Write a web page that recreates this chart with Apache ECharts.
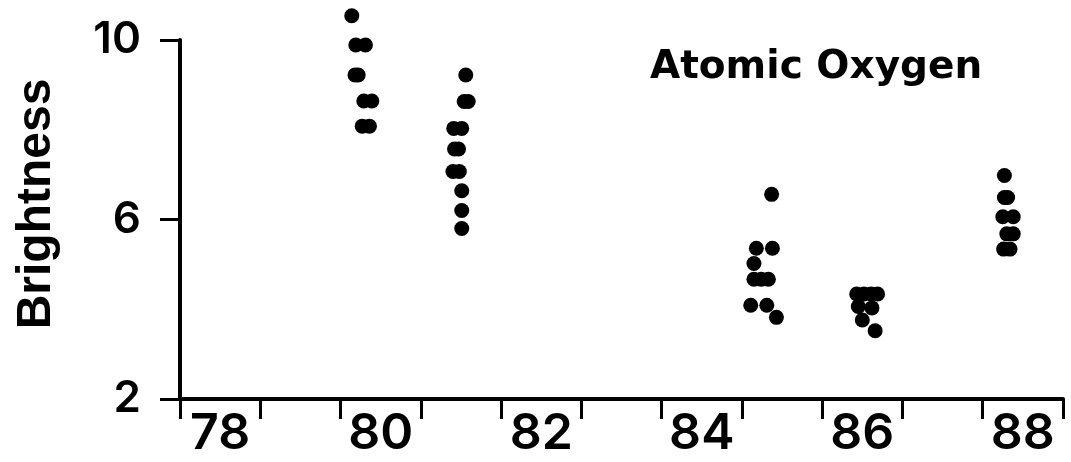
<!DOCTYPE html>
<html>
<head>
<meta charset="utf-8">
<title>Atomic Oxygen</title>
<script src="https://cdn.jsdelivr.net/npm/echarts@6/dist/echarts.min.js"></script>
<style>
    html, body { margin: 0; padding: 0; background: #fff; }
    #chart { width: 1071px; height: 462px; }
</style>
</head>
<body>
<div id="chart"></div>
<script>
// ======================================数据======================================
// [year, brightness] for each observing season
var season80 = [
    [80.14, 10.54],
    [80.19, 9.89], [80.31, 9.89],
    [80.18, 9.22], [80.22, 9.22],
    [80.29, 8.64], [80.39, 8.64],
    [80.27, 8.08], [80.36, 8.08]
];
var season81 = [
    [81.56, 9.22],
    [81.54, 8.63], [81.59, 8.63],
    [81.41, 8.03], [81.51, 8.03],
    [81.42, 7.57], [81.47, 7.57],
    [81.40, 7.07], [81.48, 7.07],
    [81.51, 6.64],
    [81.51, 6.20],
    [81.51, 5.80]
];
var season85 = [
    [85.37, 6.56],
    [85.18, 5.36], [85.38, 5.36],
    [85.15, 5.02],
    [85.15, 4.67], [85.24, 4.67], [85.33, 4.67],
    [85.11, 4.09], [85.31, 4.09],
    [85.43, 3.82]
];
var season86 = [
    [86.43, 4.34], [86.52, 4.34], [86.61, 4.34], [86.69, 4.34],
    [86.45, 4.06], [86.62, 4.03],
    [86.50, 3.76],
    [86.66, 3.52]
];
var season88 = [
    [88.27, 6.98],
    [88.27, 6.49], [88.31, 6.49],
    [88.25, 6.06], [88.38, 6.06],
    [88.30, 5.68], [88.38, 5.68],
    [88.26, 5.34], [88.34, 5.34]
];

// year labels sit in the middle of each year band (78 .. 88)
var yearLabels = ['78', '', '80', '', '82', '', '84', '', '86', '', '88'];

// ======================================配置======================================
var allPoints = season80.concat(season81, season85, season86, season88);
var chart = echarts.init(document.getElementById('chart'));

var option = {
    backgroundColor: '#fff',
    animation: false,
    grid: {
        left: 180,
        right: 8,
        top: 40,
        bottom: 63
    },
    graphic: [{
        type: 'text',
        x: 37,
        y: 204,
        rotation: Math.PI / 2,
        style: {
            text: 'Brightness',
            fill: '#000',
            font: 'bold 48px "Liberation Sans"',
            textAlign: 'center',
            textVerticalAlign: 'middle'
        }
    }, {
        type: 'text',
        x: 650,
        y: 48,
        style: {
            text: 'Atomic Oxygen',
            fill: '#000',
            font: 'bold 39px "DejaVu Sans"',
            textAlign: 'left',
            textVerticalAlign: 'top'
        }
    }],
    xAxis: [{
        type: 'value',
        min: 78,
        max: 89,
        interval: 1,
        axisLine: {
            lineStyle: { color: '#000', width: 4 }
        },
        axisTick: {
            show: true,
            length: 20,
            lineStyle: { color: '#000', width: 3 }
        },
        axisLabel: { show: false },
        splitLine: { show: false }
    }, {
        type: 'category',
        position: 'bottom',
        data: yearLabels,
        boundaryGap: true,
        axisLine: { show: false },
        axisTick: { show: false },
        axisLabel: {
            interval: 0,
            margin: 10,
            color: '#000',
            fontFamily: 'Inter',
            fontWeight: 600,
            fontSize: 50
        },
        splitLine: { show: false }
    }],
    yAxis: {
        type: 'value',
        min: 2,
        max: 10,
        interval: 4,
        axisLine: {
            show: true,
            lineStyle: { color: '#000', width: 4 }
        },
        axisTick: {
            show: true,
            length: 20,
            lineStyle: { color: '#000', width: 3 }
        },
        axisLabel: {
            margin: 39,
            color: '#000',
            fontFamily: 'Inter',
            fontWeight: 600,
            fontSize: 44
        },
        splitLine: { show: false }
    },
    series: [{
        type: 'scatter',
        xAxisIndex: 0,
        data: allPoints,
        clip: false,
        symbol: 'circle',
        symbolSize: 15,
        itemStyle: { color: '#000', opacity: 1 }
    }]
};

chart.setOption(option);
</script>
</body>
</html>
